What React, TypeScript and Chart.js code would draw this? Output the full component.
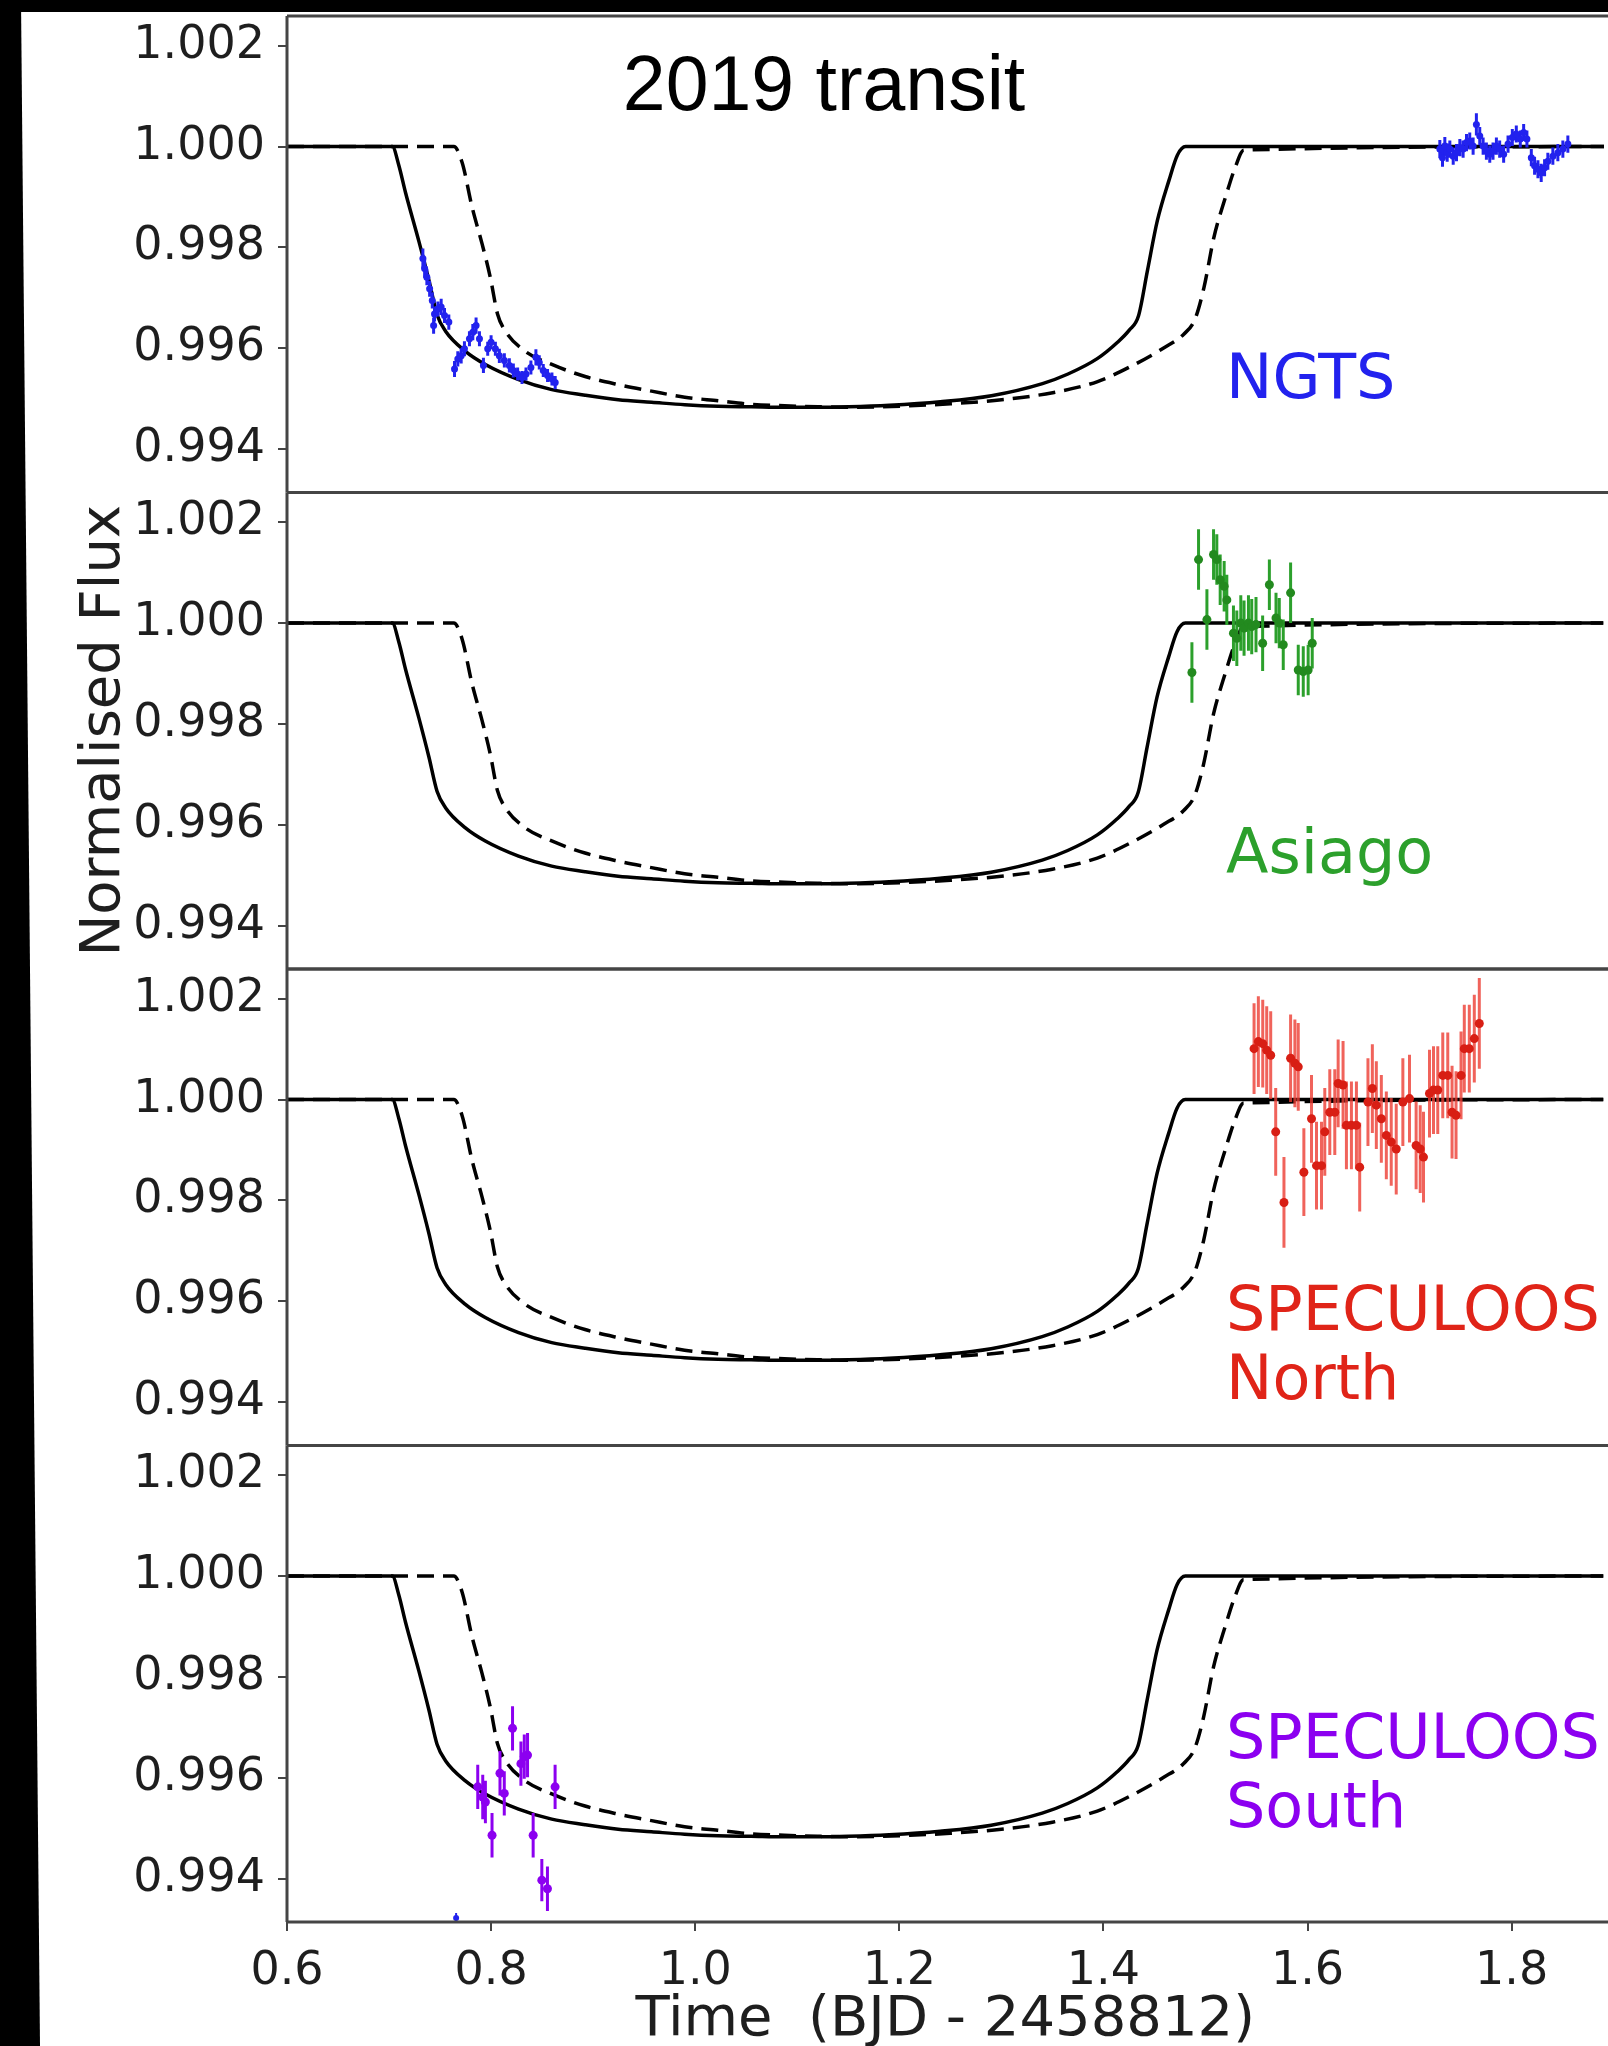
import React, { useEffect, useRef } from 'react';
import { Chart, registerables } from 'chart.js';
Chart.register(...registerables);

// ---------------- axes ----------------
const X_MIN = 0.6;
const X_MAX = 1.89;
const Y_MIN = 0.99314;
const Y_MAX = 1.00259;
const X_TICKS = [0.6, 0.8, 1.0, 1.2, 1.4, 1.6, 1.8];
const Y_TICKS = [0.994, 0.996, 0.998, 1.0, 1.002];

// ---------------- transit models (same in every panel) ----------------
const MODEL_SOLID_X = [0.6, 0.7032, 0.7095, 0.7162, 0.7292, 0.739, 0.7471, 0.7553, 0.7748, 0.7943, 0.8269, 0.8594, 0.892, 0.9245, 0.9571, 0.9896, 1.0222, 1.0547, 1.0873, 1.12, 1.15, 1.19, 1.24, 1.29, 1.34, 1.365, 1.394, 1.4135, 1.425, 1.434, 1.4428, 1.4525, 1.4639, 1.4721, 1.4802, 1.89];
const MODEL_SOLID_Y = [1.0, 1.0, 0.99963, 0.99908, 0.99812, 0.99735, 0.99666, 0.99634, 0.99594, 0.99568, 0.99538, 0.99518, 0.99507, 0.99498, 0.99493, 0.99488, 0.99485, 0.99484, 0.99483, 0.99483, 0.99484, 0.99487, 0.99494, 0.99506, 0.9953, 0.99549, 0.9958, 0.99612, 0.99636, 0.99664, 0.99754, 0.99853, 0.99933, 0.99983, 1.0, 1.0];
const MODEL_DASH_X = [0.6, 0.7634, 0.7716, 0.7813, 0.7911, 0.7992, 0.8062, 0.8139, 0.8334, 0.8594, 0.892, 0.9245, 0.9571, 0.9896, 1.0222, 1.0547, 1.0873, 1.12, 1.15, 1.18, 1.21, 1.25, 1.3, 1.35, 1.394, 1.4265, 1.4591, 1.4784, 1.4894, 1.4981, 1.5079, 1.5193, 1.529, 1.5372, 1.89];
const MODEL_DASH_Y = [1.0, 1.0, 0.99968, 0.9988, 0.99807, 0.9974, 0.99668, 0.99634, 0.99594, 0.99568, 0.99544, 0.99528, 0.99515, 0.99503, 0.99496, 0.99489, 0.99486, 0.99484, 0.99483, 0.99484, 0.99486, 0.9949, 0.99498, 0.99512, 0.99534, 0.99564, 0.99601, 0.99628, 0.99658, 0.9972, 0.9982, 0.999, 0.9996, 0.99993, 1.0];

// ---------------- NGTS ----------------
const NGTS_IN_X = [0.7331, 0.7348, 0.737, 0.7397, 0.7423, 0.7436, 0.7445, 0.7478, 0.751, 0.7543, 0.7585, 0.7641, 0.7673, 0.7706, 0.7738, 0.7787, 0.782, 0.7852, 0.7885, 0.7924, 0.7966, 0.7999, 0.8041, 0.808, 0.8129, 0.8178, 0.8217, 0.8259, 0.8302, 0.8341, 0.8389, 0.8438, 0.8471, 0.851, 0.8552, 0.8595, 0.8627];
const NGTS_IN_Y = [0.99778, 0.99758, 0.99741, 0.99718, 0.99695, 0.99645, 0.99668, 0.99678, 0.99682, 0.99665, 0.99652, 0.99559, 0.99579, 0.99585, 0.99599, 0.99619, 0.99632, 0.99645, 0.99619, 0.99566, 0.99599, 0.99612, 0.99599, 0.99585, 0.99576, 0.99566, 0.99556, 0.99549, 0.99542, 0.99549, 0.99562, 0.99582, 0.99572, 0.99556, 0.99546, 0.99539, 0.99532];
const NGTS_IN_E = [0.0002, 0.00018, 0.00016, 0.00016, 0.00016, 0.00016, 0.00015, 0.00015, 0.00016, 0.00015, 0.00015, 0.00016, 0.00015, 0.00015, 0.00015, 0.00015, 0.00016, 0.00016, 0.00015, 0.00015, 0.00014, 0.00014, 0.00014, 0.00014, 0.00014, 0.00014, 0.00014, 0.00013, 0.00013, 0.00013, 0.00014, 0.00016, 0.00014, 0.00013, 0.00013, 0.00013, 0.00013];
const NGTS_EG_X = [1.7292, 1.7318, 1.7341, 1.7364, 1.739, 1.7423, 1.7455, 1.7488, 1.752, 1.7553, 1.7585, 1.7618, 1.765, 1.7683, 1.7716, 1.7748, 1.7781, 1.7813, 1.7846, 1.7878, 1.7917, 1.796, 1.8002, 1.8041, 1.808, 1.8113, 1.8145, 1.8188, 1.822, 1.8253, 1.8285, 1.8318, 1.835, 1.8399, 1.8448, 1.8497, 1.8546];
const NGTS_EG_Y = [0.99995, 0.99978, 1.00001, 0.99988, 0.99995, 0.99981, 0.99988, 0.99998, 0.99995, 1.00008, 1.00011, 1.00001, 1.00044, 1.00021, 1.00001, 0.99991, 0.99985, 0.99991, 1.00001, 0.99995, 0.99985, 1.00005, 1.00018, 1.00025, 1.00015, 1.00028, 1.00015, 0.99978, 0.99962, 0.99955, 0.99948, 0.99958, 0.99971, 0.99981, 0.99988, 0.99995, 1.00005];
const NGTS_EG_E = [0.00018, 0.00018, 0.00018, 0.00018, 0.00017, 0.00017, 0.00017, 0.00017, 0.00017, 0.00017, 0.00017, 0.00017, 0.00022, 0.00018, 0.00017, 0.00017, 0.00017, 0.00017, 0.00017, 0.00017, 0.00017, 0.00017, 0.00017, 0.00017, 0.00017, 0.00017, 0.00017, 0.00017, 0.00018, 0.00018, 0.00018, 0.00017, 0.00017, 0.00017, 0.00017, 0.00017, 0.00017];

// ---------------- Asiago ----------------
const ASIAGO_X = [1.4867, 1.4932, 1.5014, 1.5079, 1.5111, 1.5144, 1.5183, 1.5209, 1.5274, 1.5307, 1.5346, 1.5378, 1.5421, 1.5453, 1.5495, 1.556, 1.5626, 1.5691, 1.5723, 1.5762, 1.5834, 1.5909, 1.5958, 1.6006, 1.6046];
const ASIAGO_Y = [0.99902, 1.00126, 1.00007, 1.00136, 1.00126, 1.00086, 1.00073, 1.00046, 0.9998, 0.9997, 1.0, 0.9999, 1.0, 0.99993, 0.99997, 0.9996, 1.00076, 1.0001, 1.0, 0.99957, 1.0006, 0.99907, 0.99904, 0.99907, 0.9996];
const ASIAGO_E = [0.0006, 0.0006, 0.0006, 0.0005, 0.0005, 0.0005, 0.0005, 0.0005, 0.00055, 0.00055, 0.00055, 0.00055, 0.00055, 0.00055, 0.00055, 0.00055, 0.0005, 0.0005, 0.0005, 0.0005, 0.0006, 0.0005, 0.0005, 0.0005, 0.0005];

// ---------------- SPECULOOS North ----------------
const SPN_X = [1.5476, 1.5518, 1.5561, 1.56, 1.5639, 1.5688, 1.5769, 1.5834, 1.5876, 1.5909, 1.5964, 1.6039, 1.6088, 1.6137, 1.6169, 1.6218, 1.6267, 1.63, 1.6348, 1.6381, 1.643, 1.6479, 1.6511, 1.6592, 1.6635, 1.6674, 1.6723, 1.6772, 1.682, 1.6869, 1.6934, 1.6999, 1.7064, 1.7104, 1.7136, 1.7195, 1.7234, 1.7276, 1.7325, 1.7374, 1.7416, 1.7455, 1.7504, 1.7536, 1.7585, 1.7634, 1.7683];
const SPN_Y = [1.00101, 1.00115, 1.00111, 1.00098, 1.00088, 0.99936, 0.99796, 1.00082, 1.00072, 1.00065, 0.99856, 0.99962, 0.99869, 0.99869, 0.99936, 0.99975, 0.99975, 1.00032, 1.00029, 0.99949, 0.99949, 0.99949, 0.99866, 0.99995, 1.00022, 0.99989, 0.99962, 0.99929, 0.99916, 0.99902, 0.99995, 1.00002, 0.99909, 0.99902, 0.99886, 1.00012, 1.00019, 1.00019, 1.00048, 1.00048, 0.99975, 0.99969, 1.00048, 1.00101, 1.00101, 1.00121, 1.00151];
const SPN_E = [0.0009, 0.0009, 0.00087, 0.00087, 0.00087, 0.00087, 0.0009, 0.00087, 0.00087, 0.00087, 0.00087, 0.00087, 0.00087, 0.00087, 0.00087, 0.00085, 0.00085, 0.00087, 0.00087, 0.00087, 0.00087, 0.00087, 0.00088, 0.00087, 0.00088, 0.00087, 0.00087, 0.00087, 0.00087, 0.0009, 0.00087, 0.00087, 0.00087, 0.00087, 0.0009, 0.00087, 0.00087, 0.00087, 0.00085, 0.00085, 0.00092, 0.00087, 0.00087, 0.00087, 0.00087, 0.00087, 0.0009];

// ---------------- SPECULOOS South ----------------
const SPS_X = [0.7869, 0.7918, 0.7944, 0.8009, 0.8087, 0.8129, 0.821, 0.8292, 0.8325, 0.8357, 0.8412, 0.8497, 0.8552, 0.8627];
const SPS_Y = [0.99582, 0.99562, 0.99552, 0.99486, 0.99609, 0.99569, 0.99698, 0.99628, 0.99642, 0.99645, 0.99486, 0.99397, 0.9938, 0.99582];
const SPS_E = [0.00044, 0.00044, 0.00042, 0.00044, 0.00044, 0.00044, 0.00044, 0.00044, 0.00044, 0.00044, 0.00044, 0.00042, 0.00044, 0.00044];
const STRAY_X = [0.7657];
const STRAY_Y = [0.99322];
const STRAY_E = [0.0001];

// ---------------- styling / layout ----------------
const PAGE_W = 1608;
const PAGE_H = 2046;
const AXIS_LEFT = 287;
const PANEL_TOP = [16, 492.5, 969, 1445.5];
const PANEL_BOTTOM = [492.5, 969, 1445.5, 1922];
const LAST_CANVAS_BOTTOM = 2060;
const FRAME_COLOR = '#454545';
const TEXT_COLOR = '#1e1e1e';
const FONT = '"DejaVu Sans", "Noto Sans", sans-serif';

const BLUE = '#2222ee';
const GREEN = '#2ca02c';
const RED = '#e02418';
const PURPLE = '#8c00f0';

type Series = { xs: number[]; ys: number[]; es: number[]; color: string; bar: string; radius: number; barWidth: number };
type PanelCfg = { label: string[]; color: string; labelDy: number; series: Series[]; yTitle?: string };

const PANELS: PanelCfg[] = [
  {
    label: ['NGTS'], color: BLUE, labelDy: 382,
    series: [
      { xs: NGTS_IN_X, ys: NGTS_IN_Y, es: NGTS_IN_E, color: BLUE, bar: BLUE, radius: 3.5, barWidth: 3 },
      { xs: NGTS_EG_X, ys: NGTS_EG_Y, es: NGTS_EG_E, color: BLUE, bar: BLUE, radius: 3.5, barWidth: 3 },
    ],
  },
  {
    label: ['Asiago'], color: GREEN, labelDy: 380.5, yTitle: 'Normalised Flux',
    series: [{ xs: ASIAGO_X, ys: ASIAGO_Y, es: ASIAGO_E, color: '#238a1f', bar: GREEN, radius: 4.5, barWidth: 3 }],
  },
  {
    label: ['SPECULOOS', 'North'], color: RED, labelDy: 361,
    series: [{ xs: SPN_X, ys: SPN_Y, es: SPN_E, color: '#d81e14', bar: 'rgba(236,60,50,0.8)', radius: 4.5, barWidth: 3 }],
  },
  {
    label: ['SPECULOOS', 'South'], color: PURPLE, labelDy: 312.5,
    series: [
      { xs: SPS_X, ys: SPS_Y, es: SPS_E, color: PURPLE, bar: PURPLE, radius: 4.5, barWidth: 3 },
      { xs: STRAY_X, ys: STRAY_Y, es: STRAY_E, color: BLUE, bar: BLUE, radius: 3, barWidth: 2 },
    ],
  },
];

function pts(xs: number[], ys: number[]) {
  return xs.map((x, i) => ({ x, y: ys[i] }));
}
function bars(xs: number[], ys: number[], es: number[]) {
  const out: { x: number; y: number | null }[] = [];
  xs.forEach((x, i) => {
    out.push({ x, y: ys[i] - es[i] }, { x, y: ys[i] + es[i] }, { x, y: null });
  });
  return out;
}

function Panel({ index, cfg }: { index: number; cfg: PanelCfg }) {
  const ref = useRef<HTMLCanvasElement>(null);
  const isLast = index === PANELS.length - 1;
  const top = index === 0 ? 0 : Math.floor(PANEL_TOP[index]) - 10;
  const bottom = isLast ? LAST_CANVAS_BOTTOM : Math.ceil(PANEL_BOTTOM[index]) + 10;
  const height = bottom - top;

  useEffect(() => {
    if (!ref.current) return;
    const datasets: any[] = [
      {
        data: pts(MODEL_SOLID_X, MODEL_SOLID_Y), showLine: true, borderColor: '#000', borderWidth: 3.5,
        pointRadius: 0, cubicInterpolationMode: 'monotone', order: 5,
      },
      {
        data: pts(MODEL_DASH_X, MODEL_DASH_Y), showLine: true, borderColor: '#000', borderWidth: 3.5,
        borderDash: [17, 9], pointRadius: 0, cubicInterpolationMode: 'monotone', order: 6,
      },
    ];
    cfg.series.forEach((s) => {
      datasets.push({
        data: bars(s.xs, s.ys, s.es), showLine: true, spanGaps: false, borderColor: s.bar,
        borderWidth: s.barWidth, pointRadius: 0, order: 2,
      });
      datasets.push({
        data: pts(s.xs, s.ys), pointRadius: s.radius, pointBackgroundColor: s.color,
        pointBorderWidth: 0, order: 1,
      });
    });

    const decor = {
      id: 'decor' + index,
      afterDatasetsDraw(chart: any) {
        const { ctx, chartArea: a } = chart;
        ctx.save();
        ctx.strokeStyle = FRAME_COLOR;
        ctx.lineWidth = 3;
        ctx.beginPath();
        ctx.moveTo(a.left, a.top); ctx.lineTo(chart.width, a.top);
        ctx.moveTo(a.left, a.bottom); ctx.lineTo(chart.width, a.bottom);
        ctx.moveTo(a.left, a.top); ctx.lineTo(a.left, a.bottom);
        ctx.stroke();
        ctx.fillStyle = cfg.color;
        ctx.font = `62px ${FONT}`;
        ctx.textAlign = 'left';
        ctx.textBaseline = 'alphabetic';
        cfg.label.forEach((t, i) => ctx.fillText(t, a.left + 939, a.top + cfg.labelDy + i * 69));
        if (index === 0) {
          ctx.fillStyle = '#000';
          ctx.font = '77px "Liberation Sans", Arial, sans-serif';
          ctx.textAlign = 'center';
          ctx.fillText('2019 transit', a.left + 537, a.top + 94);
        }
        ctx.restore();
      },
    };

    const tickFont = { family: FONT, size: 46 };
    const xScale: any = {
      type: 'linear',
      min: X_MIN,
      max: X_MAX,
      display: isLast,
      afterBuildTicks: (s: any) => { s.ticks = X_TICKS.map((v) => ({ value: v })); },
      ticks: {
        font: tickFont, color: TEXT_COLOR, padding: 13, maxRotation: 0, autoSkip: false,
        callback: (v: any) => Number(v).toFixed(1),
      },
      grid: { drawOnChartArea: false, drawTicks: true, tickLength: 9, color: '#444', lineWidth: 2 },
      border: { display: false },
      title: {
        display: isLast,
        text: 'Time  (BJD - 2458812)',
        font: { family: FONT, size: 56 },
        color: TEXT_COLOR,
        padding: { top: 0, bottom: 6.4 },
      },
    };
    if (isLast) {
      xScale.afterFit = (s: any) => {
        s.height = LAST_CANVAS_BOTTOM - PANEL_BOTTOM[index];
        s.paddingLeft = 0;
        s.paddingRight = 0;
      };
    }

    const chart = new Chart(ref.current, {
      type: 'scatter',
      data: { datasets },
      plugins: [decor],
      options: {
        animation: false,
        responsive: false,
        devicePixelRatio: 1,
        events: [],
        layout: {
          padding: {
            top: PANEL_TOP[index] - top,
            bottom: isLast ? 0 : bottom - PANEL_BOTTOM[index],
            left: 0,
            right: 0,
          },
        },
        plugins: { legend: { display: false }, tooltip: { enabled: false } },
        scales: {
          x: xScale,
          y: {
            type: 'linear',
            min: Y_MIN,
            max: Y_MAX,
            afterBuildTicks: (s: any) => { s.ticks = Y_TICKS.map((v) => ({ value: v })); },
            afterFit: (s: any) => {
              s.width = AXIS_LEFT;
              s.paddingTop = 0;
              s.paddingBottom = 0;
            },
            ticks: {
              font: tickFont, color: TEXT_COLOR, padding: 13, autoSkip: false,
              callback: (v: any) => Number(v).toFixed(3),
            },
            grid: { drawOnChartArea: false, drawTicks: true, tickLength: 9, color: '#444', lineWidth: 2 },
            border: { display: false },
            title: {
              display: !!cfg.yTitle,
              text: cfg.yTitle || '',
              font: { family: FONT, size: 56 },
              color: TEXT_COLOR,
              padding: { top: 71, bottom: 0 },
            },
          },
        },
      } as any,
    });
    return () => chart.destroy();
  }, []);

  return (
    <canvas
      ref={ref}
      width={PAGE_W}
      height={height}
      style={{ position: 'absolute', left: 0, top, width: PAGE_W, height }}
    />
  );
}

export default function App() {
  return (
    <div style={{ position: 'absolute', left: 0, top: 0, width: PAGE_W, height: PAGE_H, background: '#fff', overflow: 'hidden' }}>
      {PANELS.map((p, i) => (
        <Panel key={i} index={i} cfg={p} />
      ))}
      <div
        style={{
          position: 'absolute', left: 0, top: 0, width: 42, height: PAGE_H, background: '#000', zIndex: 5,
          clipPath: 'polygon(0 0, 21px 0, 40px 100%, 0 100%)',
        }}
      />
      <div style={{ position: 'absolute', left: 0, top: 0, width: PAGE_W, height: 12, background: '#000', zIndex: 5 }} />
    </div>
  );
}
